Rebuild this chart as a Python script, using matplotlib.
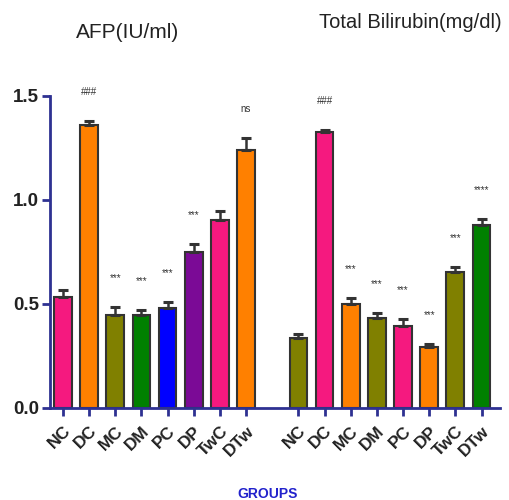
import numpy as np
import matplotlib.pyplot as plt

plt.rcParams["font.family"] = ["Liberation Sans", "DejaVu Sans"]

# Group names (same for both panels)
groups = ["NC", "DC", "MC", "DM", "PC", "DP", "TwC", "DTw"]

# AFP (IU/ml) means and SEM
afp_mean = [0.534, 1.36, 0.447, 0.447, 0.479, 0.748, 0.904, 1.24]
afp_err = [0.033, 0.02, 0.040, 0.024, 0.032, 0.040, 0.045, 0.057]
afp_sig = ["", "###", "***", "***", "***", "***", "", "ns"]
afp_colors = ["#f5197f", "#ff8000", "#808000", "#008000", "#0000ff", "#7b0a96", "#f5197f", "#ff8000"]

# Total bilirubin (mg/dl) means and SEM
bil_mean = [0.335, 1.325, 0.50, 0.433, 0.396, 0.292, 0.652, 0.881]
bil_err = [0.019, 0.012, 0.027, 0.022, 0.030, 0.016, 0.027, 0.026]
bil_sig = ["", "###", "***", "***", "***", "***", "***", "****"]
bil_colors = ["#808000", "#f5197f", "#ff8000", "#808000", "#f5197f", "#ff8000", "#808000", "#008000"]

axis_col = "#2e3192"

fig = plt.figure(figsize=(5.09, 5.0), dpi=100)
ax = fig.add_axes([0.098, 0.184, 0.884, 0.624])

x1 = np.arange(len(groups))
x2 = x1 + len(groups) + 1
xs = np.concatenate([x1, x2])
means = afp_mean + bil_mean
errs = afp_err + bil_err
colors = afp_colors + bil_colors
sigs = afp_sig + bil_sig

ax.bar(xs, means, width=0.68, color=colors, edgecolor="#333333", linewidth=1.5, zorder=2)
ax.errorbar(xs, means, yerr=[np.zeros(len(errs)), errs], fmt="none", ecolor="#333333",
            elinewidth=1.8, capsize=3.5, capthick=2.2, zorder=3)

# significance marks above the error bars
for x, m, e, s in zip(xs, means, errs, sigs):
    if s:
        ax.text(x, m + e + 0.14, s, ha="center", va="center", fontsize=7, color="#333333",
                clip_on=False)

ax.set_xlim(-0.5, 16.7)
ax.set_ylim(0, 1.5)
ax.set_yticks([0, 0.5, 1.0, 1.5])
ax.set_yticklabels(["0.0", "0.5", "1.0", "1.5"], fontsize=13.5, fontweight="bold", color="#222222")
ax.set_xticks(xs)
ax.set_xticklabels(groups + groups, rotation=45, ha="right", rotation_mode="anchor",
                   fontsize=12.5, fontweight="bold", color="#222222")

for side in ["top", "right"]:
    ax.spines[side].set_visible(False)
for side in ["left", "bottom"]:
    ax.spines[side].set_color(axis_col)
    ax.spines[side].set_linewidth(2)
ax.tick_params(axis="both", direction="out", length=6, width=2, color=axis_col)
ax.tick_params(axis="y", pad=2)
ax.tick_params(axis="x", pad=5)

fig.text(0.250, 0.934, "AFP(IU/ml)", ha="center", va="center", fontsize=15, color="#222222")
fig.text(0.806, 0.956, "Total Bilirubin(mg/dl)", ha="center", va="center", fontsize=14.5, color="#222222")
fig.text(0.525, 0.013, "GROUPS", ha="center", va="center", fontsize=10, fontweight="bold", color="#2222cc")

fig.savefig("out.png", dpi=100)
